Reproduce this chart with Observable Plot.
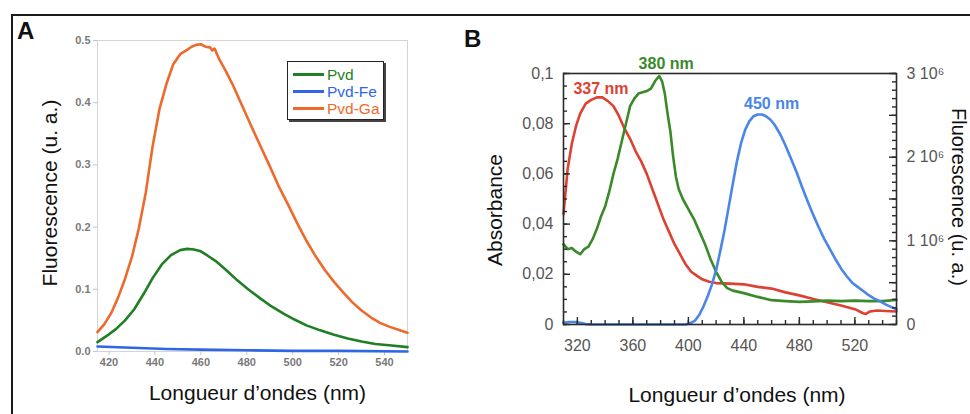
<!DOCTYPE html>
<html>
<head>
<meta charset="utf-8">
<script src="https://cdn.jsdelivr.net/npm/d3@7"></script>
<script src="https://cdn.jsdelivr.net/npm/@observablehq/plot@0.6"></script>
<style>
  body { margin: 0; background: #fff; }
  #fig { position: relative; width: 970px; height: 414px; overflow: hidden; background: #fff;
         font-family: "Liberation Sans", Arial, Helvetica, sans-serif; }
  #border { position: absolute; left: 11px; top: 14px; width: 1000px; height: 500px;
            border-top: 2px solid #1a1a1a; border-left: 2px solid #1a1a1a; }
  .panel { position: absolute; top: 0; }
  .letter { position: absolute; font-weight: bold; font-size: 24px; line-height: 24px; color: #111; }
  #legend { position: absolute; left: 287px; top: 61px; width: 97px; height: 59px; background: #fff;
            border: 1.5px solid #222; box-shadow: 2px 2px 0 #444; padding-top: 4px; box-sizing: border-box; }
  .lrow { display: flex; align-items: center; height: 17px; padding-left: 5px; font-size: 15.5px; }
  .lline { width: 31px; height: 2.5px; margin-right: 3px; }
</style>
</head>
<body>
<div id="fig">
  <div id="border"></div>
  <div class="panel" id="panelA" style="left:0px"></div>
  <div class="panel" id="panelB" style="left:470px"></div>
  <div class="letter" style="left:17px; top:19px">A</div>
  <div class="letter" style="left:464px; top:27px">B</div>
  <div id="legend"></div>
</div>
<script>
// ---------- Panel A data ----------
const aSeries = ["Pvd", "Pvd-Fe", "Pvd-Ga"];
const aColors = ["#1f7f22", "#2f66e8", "#ee6a2c"];
const aXTicks = [420, 440, 460, 480, 500, 520, 540];
const aYTicks = [0, 0.1, 0.2, 0.3, 0.4, 0.5];

const pvdX = [415,419,423,427,431,435,439,443,447,451,454,457,460,463,467,471,476,481,486,491,496,501,506,512,518,524,530,536,542,550];
const pvdY = [0.015,0.025,0.036,0.05,0.068,0.092,0.118,0.140,0.155,0.163,0.165,0.164,0.161,0.154,0.144,0.131,0.114,0.099,0.085,0.072,0.061,0.051,0.042,0.034,0.027,0.021,0.016,0.012,0.010,0.007];

const pvdFeX = [415,430,445,460,480,500,520,550];
const pvdFeY = [0.008,0.006,0.004,0.003,0.002,0.001,0.001,0.0];

const pvdGaX = [415,418,421,424,427,430,433,436,439,442,445,448,451,454,456,458,460,462,464,465,466,468,471,474,478,482,486,490,494,498,502,506,510,514,518,522,526,530,534,538,542,546,550];
const pvdGaY = [0.031,0.044,0.062,0.087,0.117,0.152,0.198,0.255,0.33,0.39,0.43,0.462,0.478,0.485,0.49,0.493,0.494,0.49,0.489,0.484,0.487,0.47,0.45,0.428,0.395,0.362,0.33,0.298,0.265,0.236,0.206,0.178,0.153,0.131,0.112,0.095,0.079,0.066,0.055,0.046,0.040,0.035,0.030];

// ---------- Panel B data ----------
const bXTicks = [320, 360, 400, 440, 480, 520];
const bYTicks = [0, 0.02, 0.04, 0.06, 0.08, 0.1];
const bRightTicks = [0, 1e6, 2e6, 3e6];
const bRightLabels = ["0", "1 10\u2076", "2 10\u2076", "3 10\u2076"];
const bRightMax = 3e6;   // right axis top value
const bLeftMax = 0.1;    // left axis top value

const redX = [310,313,316,319,322,326,330,334,338,342,346,350,354,358,362,366,370,374,378,382,386,390,394,398,402,406,410,415,420,430,440,450,460,470,480,490,500,510,520,526,528,531,536,542,550];
const redY = [0.044,0.062,0.072,0.079,0.084,0.088,0.0895,0.0905,0.0905,0.089,0.087,0.083,0.078,0.074,0.069,0.065,0.06,0.054,0.048,0.042,0.037,0.032,0.028,0.024,0.021,0.0195,0.018,0.017,0.0165,0.0163,0.016,0.015,0.0143,0.0128,0.0116,0.0102,0.0089,0.0076,0.0061,0.0045,0.0042,0.0052,0.0056,0.0054,0.0052];

const greenX = [310,313,316,319,322,325,328,331,334,337,340,343,346,349,352,355,358,361,364,367,370,373,376,379,381,383,385,387,389,391,393,396,400,404,408,412,416,420,424,428,432,436,440,450,460,470,480,490,500,510,520,530,540,550];
const greenY = [0.032,0.030,0.0305,0.029,0.028,0.030,0.031,0.034,0.038,0.043,0.047,0.053,0.06,0.066,0.073,0.080,0.087,0.090,0.092,0.0925,0.093,0.094,0.097,0.099,0.097,0.092,0.084,0.077,0.067,0.059,0.054,0.050,0.046,0.042,0.037,0.032,0.026,0.021,0.017,0.0145,0.0135,0.013,0.0125,0.011,0.0097,0.0093,0.009,0.0092,0.0095,0.0093,0.0095,0.0093,0.0093,0.0098];

const blueX = [310,314,318,322,326,330,360,398,402,405,408,411,414,417,420,423,426,429,432,435,438,441,444,447,450,453,456,459,462,466,470,474,478,482,486,490,494,498,502,506,510,514,518,522,526,530,534,538,542,546,550];
const blueY = [0.02e6,0.03e6,0.03e6,0.02e6,0.005e6,0,0,0,0.02e6,0.05e6,0.12e6,0.22e6,0.34e6,0.48e6,0.65e6,0.88e6,1.12e6,1.4e6,1.68e6,1.95e6,2.17e6,2.33e6,2.43e6,2.49e6,2.51e6,2.51e6,2.49e6,2.45e6,2.39e6,2.28e6,2.14e6,1.98e6,1.82e6,1.64e6,1.47e6,1.31e6,1.16e6,1.02e6,0.9e6,0.78e6,0.67e6,0.58e6,0.5e6,0.45e6,0.4e6,0.35e6,0.31e6,0.28e6,0.24e6,0.21e6,0.18e6];

const bColors = { red: "#de4131", green: "#3a8a2a", blue: "#4a86e8" };
const annLabels = ["337 nm", "380 nm", "450 nm"];
const annX = [337, 384, 460];
const annY = [0.094, 0.104, 0.088];
const annColors = [bColors.red, bColors.green, bColors.blue];

const bXMinor = d3.range(310, 551, 10);
const bYMinor = d3.range(0, 0.1001, 0.005);
const bRMinor = d3.range(0, 3e6 + 1, 1e5);
const bRMajor = d3.range(0, 3e6 + 1, 5e5);

// ---------- Panel A ----------
const zip = (xs, ys, s) => xs.map((x, i) => ({x, y: ys[i], s}));
const aData = [...zip(pvdX, pvdY, "Pvd"), ...zip(pvdFeX, pvdFeY, "Pvd-Fe"), ...zip(pvdGaX, pvdGaY, "Pvd-Ga")];
const font = "Liberation Sans, Arial, Helvetica, sans-serif";
const lbl = {textAnchor: "middle", lineAnchor: "middle", fontSize: 21, fill: "#111", text: d => d};

const plotA = Plot.plot({
  width: 470, height: 414,
  marginLeft: 97, marginRight: 63, marginTop: 40, marginBottom: 63,
  style: {fontFamily: font, background: "transparent", overflow: "visible"},
  x: {domain: [415, 550]},
  y: {domain: [0, 0.5]},
  color: {domain: aSeries, range: aColors},
  marks: [
    Plot.frame({stroke: "#d4d4d4"}),
    Plot.axisX({ticks: aXTicks, tickSize: 4, tickPadding: 3, stroke: "#c4c4c4", fill: "#7a7a7a", fontSize: 11, fontWeight: "bold", label: null, tickFormat: d => String(d)}),
    Plot.axisY({ticks: aYTicks, tickSize: 4, tickPadding: 3, stroke: "#c4c4c4", fill: "#7a7a7a", fontSize: 11, fontWeight: "bold", label: null, tickFormat: ".1f"}),
    Plot.line(aData, {x: "x", y: "y", z: "s", stroke: "s", strokeWidth: 2.6}),
    Plot.text(["Fluorescence (u. a.)"], {...lbl, frameAnchor: "left", dx: -47, dy: -3, rotate: -90}),
    Plot.text(["Longueur d\u2019ondes (nm)"], {...lbl, frameAnchor: "bottom", dx: 5, dy: 42})
  ]
});
document.getElementById("panelA").appendChild(plotA);

// legend
const legend = document.getElementById("legend");
aSeries.forEach((s, i) => {
  const row = document.createElement("div");
  row.className = "lrow";
  row.innerHTML = `<span class="lline" style="background:${aColors[i]}"></span><span style="color:${aColors[i]}">${s}</span>`;
  legend.appendChild(row);
});

// ---------- Panel B ----------
const bW = 500, bH = 414, bML = 93, bMR = 74, bMT = 73, bMB = 90;
const innerW = bW - bML - bMR, innerH = bH - bMT - bMB;
const toLeft = v => v / bRightMax * bLeftMax;
const commaFmt = d => d === 0 ? "0" : String(+d.toFixed(3)).replace(".", ",");
const tk = {stroke: "#2a2a2a", strokeWidth: 1.4};

const plotB = Plot.plot({
  width: bW, height: bH,
  marginLeft: bML, marginRight: bMR, marginTop: bMT, marginBottom: bMB,
  style: {fontFamily: font, background: "transparent", overflow: "visible"},
  x: {domain: [310, 550]},
  y: {domain: [0, bLeftMax]},
  marks: [
    Plot.line(redX.map((x, i) => ({x, y: redY[i]})), {x: "x", y: "y", stroke: bColors.red, strokeWidth: 2.6}),
    Plot.line(greenX.map((x, i) => ({x, y: greenY[i]})), {x: "x", y: "y", stroke: bColors.green, strokeWidth: 2.6}),
    Plot.line(blueX.map((x, i) => ({x, y: toLeft(blueY[i])})), {x: "x", y: "y", stroke: bColors.blue, strokeWidth: 2.6}),
    Plot.frame({stroke: "#2a2a2a", strokeWidth: 1.6}),
    // inward ticks
    Plot.tickX(bXMinor, {...tk, x: d => d, insetTop: innerH - 4}),
    Plot.tickX(bXTicks, {...tk, x: d => d, insetTop: innerH - 7}),
    Plot.tickY(bYMinor, {...tk, y: d => d, insetRight: innerW - 4}),
    Plot.tickY(bYTicks, {...tk, y: d => d, insetRight: innerW - 7}),
    Plot.tickY(bRMinor, {...tk, y: d => toLeft(d), insetLeft: innerW - 4}),
    Plot.tickY(bRMajor, {...tk, y: d => toLeft(d), insetLeft: innerW - 7}),
    Plot.axisX({ticks: bXTicks, tickSize: 0, tickPadding: 15, fill: "#555", fontSize: 16, label: null, tickFormat: d => String(d)}),
    Plot.axisY({ticks: bYTicks, tickSize: 0, tickPadding: 10, fill: "#555", fontSize: 16, label: null, tickFormat: commaFmt}),
    Plot.axisY({anchor: "right", ticks: bRightTicks.map(toLeft), tickSize: 0, tickPadding: 10, fill: "#555", fontSize: 16, label: null,
                tickFormat: (d, i) => bRightLabels[i]}),
    Plot.text(annLabels, {x: (d, i) => annX[i], y: (d, i) => annY[i], text: d => d, fill: (d, i) => annColors[i], fontSize: 16, fontWeight: "bold"}),
    Plot.text(["Absorbance"], {...lbl, frameAnchor: "left", dx: -68, dy: 11, rotate: -90}),
    Plot.text(["Fluorescence (u. a.)"], {...lbl, frameAnchor: "right", dx: 62, dy: -2, rotate: 90, fontSize: 20}),
    Plot.text(["Longueur d\u2019ondes (nm)"], {...lbl, frameAnchor: "bottom", dx: 7, dy: 71})
  ]
});
document.getElementById("panelB").appendChild(plotB);
</script>
</body>
</html>
